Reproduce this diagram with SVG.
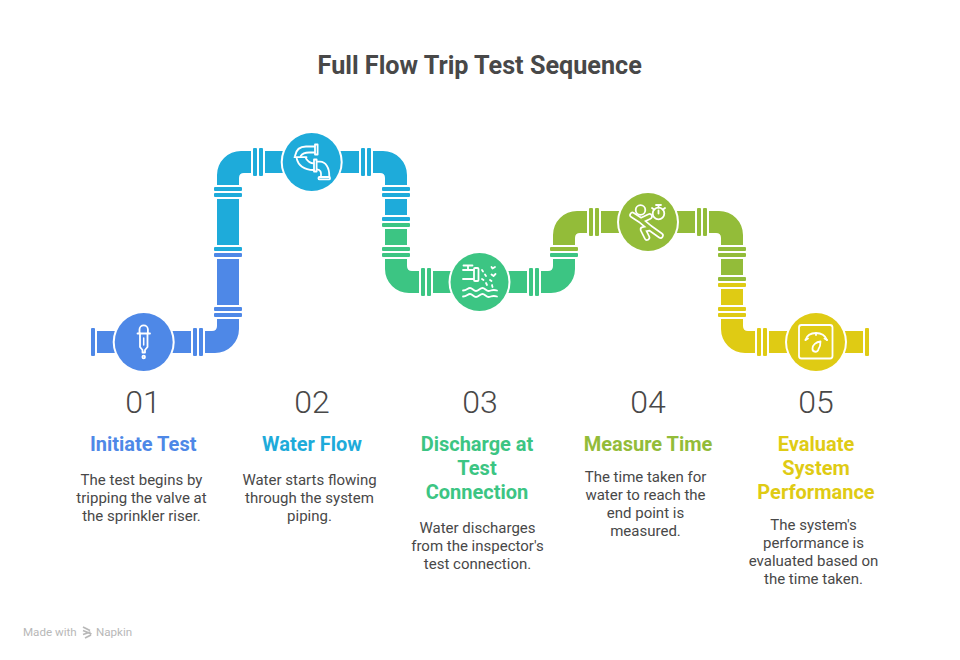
<svg xmlns="http://www.w3.org/2000/svg" width="960" height="660" viewBox="0 0 960 660">
<style>
.t{font-family:Roboto,"Liberation Sans",sans-serif;text-anchor:middle}
.title{font-size:25.200px;font-weight:700;fill:#484848}
.num{font-size:32px;font-weight:300;fill:#484848}
.h{font-size:20px;font-weight:700}
.b{font-size:15px;fill:#484848}
.i{fill:none;stroke:#fff;stroke-width:1.800;stroke-linecap:round;stroke-linejoin:round}
.blue{fill:#4e88e7}.cyan{fill:#1eabda}.green{fill:#3cc583}.olive{fill:#93bc39}.yellow{fill:#dfcb14}
</style>
<rect width="960" height="660" fill="#fff"/>
<text class="t title" x="479.700" y="74">Full Flow Trip Test Sequence</text>
<g id="connectors">
<g class="blue">
<rect x="91" y="328" width="4" height="28" rx="1"/>
<rect x="97" y="331" width="94" height="22"/>
<rect x="193" y="328" width="4" height="28" rx="1"/>
<rect x="199" y="328" width="4" height="28" rx="1"/>
<path d="M205 331H212Q217 331 217 326V319H239V329A24 24 0 0 1 215 353H205Z"/>
<rect x="214" y="307" width="28" height="4" rx="1"/>
<rect x="214" y="313" width="28" height="4" rx="1"/>
<rect x="217" y="259" width="22" height="46"/>
<rect x="214" y="253" width="28" height="4" rx="1"/>
</g>
<g class="cyan">
<rect x="214" y="247" width="28" height="4" rx="1"/>
<rect x="217" y="199" width="22" height="46"/>
<rect x="214" y="193" width="28" height="4" rx="1"/>
<rect x="214" y="187" width="28" height="4" rx="1"/>
<path d="M217 185V175A24 24 0 0 1 241 151H251V173H244Q239 173 239 178V185Z"/>
<rect x="253" y="148" width="4" height="28" rx="1"/>
<rect x="259" y="148" width="4" height="28" rx="1"/>
<rect x="265" y="151" width="94" height="22"/>
<rect x="361" y="148" width="4" height="28" rx="1"/>
<rect x="367" y="148" width="4" height="28" rx="1"/>
<path d="M373 151H383A24 24 0 0 1 407 175V185H385V178Q385 173 380 173H373Z"/>
<rect x="382" y="187" width="28" height="4" rx="1"/>
<rect x="382" y="193" width="28" height="4" rx="1"/>
<rect x="385" y="199" width="22" height="16"/>
<rect x="382" y="217" width="28" height="4" rx="1"/>
</g>
<g class="green">
<rect x="382" y="223" width="28" height="4" rx="1"/>
<rect x="385" y="229" width="22" height="16"/>
<rect x="382" y="247" width="28" height="4" rx="1"/>
<rect x="382" y="253" width="28" height="4" rx="1"/>
<path d="M385 259V269A24 24 0 0 0 409 293H419V271H412Q407 271 407 266V259Z"/>
<rect x="421" y="268" width="4" height="28" rx="1"/>
<rect x="427" y="268" width="4" height="28" rx="1"/>
<rect x="433" y="271" width="94" height="22"/>
<rect x="529" y="268" width="4" height="28" rx="1"/>
<rect x="535" y="268" width="4" height="28" rx="1"/>
<path d="M541 271H548Q553 271 553 266V259H575V269A24 24 0 0 1 551 293H541Z"/>
<rect x="550" y="253" width="28" height="4" rx="1"/>
</g>
<g class="olive">
<rect x="550" y="247" width="28" height="4" rx="1"/>
<path d="M553 245V235A24 24 0 0 1 577 211H587V233H580Q575 233 575 238V245Z"/>
<rect x="589" y="208" width="4" height="28" rx="1"/>
<rect x="595" y="208" width="4" height="28" rx="1"/>
<rect x="601" y="211" width="94" height="22"/>
<rect x="697" y="208" width="4" height="28" rx="1"/>
<rect x="703" y="208" width="4" height="28" rx="1"/>
<path d="M709 211H719A24 24 0 0 1 743 235V245H721V238Q721 233 716 233H709Z"/>
<rect x="718" y="247" width="28" height="4" rx="1"/>
<rect x="718" y="253" width="28" height="4" rx="1"/>
<rect x="721" y="259" width="22" height="16"/>
<rect x="718" y="277" width="28" height="4" rx="1"/>
</g>
<g class="yellow">
<rect x="718" y="283" width="28" height="4" rx="1"/>
<rect x="721" y="289" width="22" height="16"/>
<rect x="718" y="307" width="28" height="4" rx="1"/>
<rect x="718" y="313" width="28" height="4" rx="1"/>
<path d="M721 319V329A24 24 0 0 0 745 353H755V331H748Q743 331 743 326V319Z"/>
<rect x="757" y="328" width="4" height="28" rx="1"/>
<rect x="763" y="328" width="4" height="28" rx="1"/>
<rect x="769" y="331" width="94" height="22"/>
<rect x="865" y="328" width="4" height="28" rx="1"/>
</g>
</g>
<g id="step-1">
<circle cx="143.700" cy="342" r="31" fill="#fff"/>
<circle class="blue" cx="143.700" cy="342" r="29"/>
<g class="i">
<path d="M139.500 333V329.500A4.200 4.200 0 0 1 147.900 329.500V333"/>
<path d="M137.500 333.500H150"/>
<path d="M140 333.500V347L142.500 350V352.500H145V350L147.500 347V333.500"/>
<path d="M143.700 338V345" stroke-width="1.500"/>
<circle cx="143.700" cy="357" r="1.300"/>
</g>
<text class="t num" x="143" y="413">01</text>
<text class="t h" x="143.200" y="451" fill="#4e88e7">Initiate Test</text>
<text class="t b" x="141.500" y="485">The test begins by</text>
<text class="t b" x="141.500" y="503">tripping the valve at</text>
<text class="t b" x="141.500" y="521">the sprinkler riser.</text>
</g>
<g id="step-2">
<circle cx="311.700" cy="162" r="31" fill="#fff"/>
<circle class="cyan" cx="311.700" cy="162" r="29"/>
<g class="i">
<rect x="315" y="144.500" width="2.600" height="10"/>
<path d="M314.500 146.500H306C300 146.500 296 150 295 156"/>
<path d="M314.500 152.500H309C305 152.500 302 154 300.700 156"/>
<path d="M294.500 157.200H306.500"/>
<path d="M296.700 158.500C298 165 304 170 313.500 170"/>
<path d="M306 158.500C308 161.500 310 163.300 313.500 163.300"/>
<rect x="314" y="159.500" width="2.600" height="12"/>
<path d="M317 161.700H320C325.500 162 329.500 167 329.300 176.500"/>
<path d="M317 169.300C320.500 169.500 321.500 172 321 176.500"/>
<rect x="318.500" y="177" width="11.500" height="2.400" rx="1"/>
</g>
<text class="t num" x="312" y="413">02</text>
<text class="t h" x="312" y="451" fill="#1eabda">Water Flow</text>
<text class="t b" x="309.500" y="485">Water starts flowing</text>
<text class="t b" x="309.500" y="503">through the system</text>
<text class="t b" x="309.500" y="521">piping.</text>
</g>
<g id="step-3">
<circle cx="479.500" cy="282" r="31" fill="#fff"/>
<circle class="green" cx="479.500" cy="282" r="29"/>
<g class="i">
<path d="M463.500 265.500H472.500M468 265.500V270M463 270H473.500M463 279H473.500"/>
<rect x="474" y="268" width="4.500" height="13" rx="1"/>
<path d="M482 270L483 271.500M485 274.500L486 276M482 279L483.500 280M486 283L487 285M490 280L491.500 281M492 285L492.500 287M491.500 267L492.500 268.500L495 267M491.500 274.500L493.500 276L495.500 274"/>
<path d="M463 290.500C467 290.500 467.500 288 470 288S473.500 291 476 291S480 288 482.500 288S486 291 488.500 291S492 289 497 290.500"/>
<path d="M463 296.500C467 296.500 467.500 294 470 294S473.500 297 476 297S480 294 482.500 294S486 297 488.500 297S492 295 497 296.500"/>
</g>
<text class="t num" x="480" y="413">03</text>
<text class="t h" x="477" y="451" fill="#3cc583">Discharge at</text>
<text class="t h" x="477" y="475" fill="#3cc583">Test</text>
<text class="t h" x="477" y="499" fill="#3cc583">Connection</text>
<text class="t b" x="477.500" y="533">Water discharges</text>
<text class="t b" x="477.500" y="551">from the inspector's</text>
<text class="t b" x="477.500" y="569">test connection.</text>
</g>
<g id="step-4">
<circle cx="648" cy="222" r="31" fill="#fff"/>
<circle class="olive" cx="648" cy="222" r="29"/>
<g class="i">
<circle cx="640.500" cy="210" r="4.800"/>
<circle cx="658.500" cy="213.500" r="5.800"/>
<path d="M658.500 207.500V205M656 205H661M652 208L654 209.500M665 208L663 209.500M658.500 210.500V213.500"/>
</g>
<path d="M632.500 215L641 220.500L649.500 216.500M641 220.500L650 228L660.500 235.500M650 228L643 229.500L647 237.500" fill="none" stroke="#fff" stroke-width="6.500" stroke-linecap="round" stroke-linejoin="round"/>
<path d="M632.500 215L641 220.500L649.500 216.500M641 220.500L650 228L660.500 235.500M650 228L643 229.500L647 237.500" fill="none" stroke="#93bc39" stroke-width="3.200" stroke-linecap="round" stroke-linejoin="round"/>
<text class="t num" x="648" y="413">04</text>
<text class="t h" x="648" y="451" fill="#93bc39">Measure Time</text>
<text class="t b" x="645.500" y="482">The time taken for</text>
<text class="t b" x="645.500" y="500">water to reach the</text>
<text class="t b" x="645.500" y="518">end point is</text>
<text class="t b" x="645.500" y="536">measured.</text>
</g>
<g id="step-5">
<circle cx="816" cy="342" r="31" fill="#fff"/>
<circle class="yellow" cx="816" cy="342" r="29"/>
<g class="i">
<rect x="799" y="325" width="33.500" height="33.500" rx="2.500"/>
<path d="M805.500 340C807 335 811 333 816 333S825 335 827 340"/>
<path d="M805.500 340L808 338.500M827 340L824.500 338.500M816 333V335"/>
<path d="M820.500 341.500C816 342 812.500 345 812.500 348.500A3 3 0 0 0 818.500 349C820 347 820.500 344 820.500 341.500Z"/>
</g>
<text class="t num" x="816" y="413">05</text>
<text class="t h" x="816" y="451" fill="#dfcb14">Evaluate</text>
<text class="t h" x="816" y="475" fill="#dfcb14">System</text>
<text class="t h" x="816" y="499" fill="#dfcb14">Performance</text>
<text class="t b" x="813.500" y="530">The system's</text>
<text class="t b" x="813.500" y="548">performance is</text>
<text class="t b" x="813.500" y="566">evaluated based on</text>
<text class="t b" x="813.500" y="584">the time taken.</text>
</g>
<g id="brand">
<text x="23" y="636" font-family="Roboto,'Liberation Sans',sans-serif" font-size="11.600" fill="#b8b8b8">Made with</text>
<path d="M83 627L90 630.500M83 630.500L91.500 634M83 634.500L90.500 632M85 638L91 635" fill="none" stroke="#b8b8b8" stroke-width="1.800"/>
<text x="96" y="636" font-family="Roboto,'Liberation Sans',sans-serif" font-size="11.600" fill="#b8b8b8">Napkin</text>
</g>
</svg>
